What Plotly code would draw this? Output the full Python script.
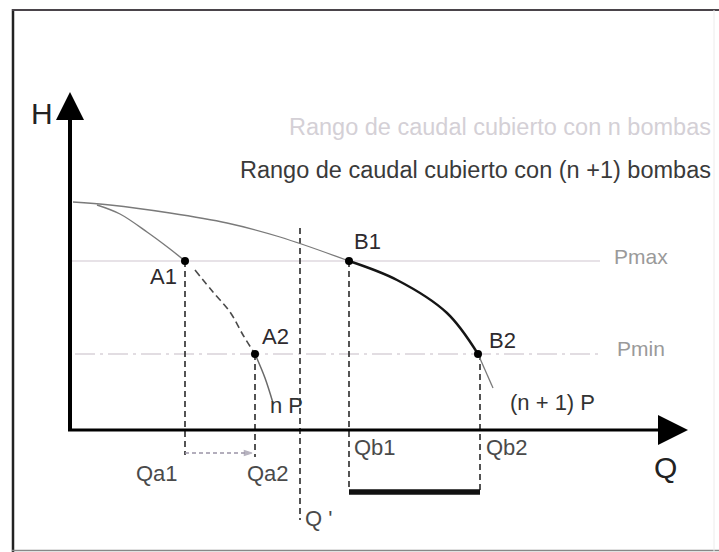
import plotly.graph_objects as go

# ---- schematic data (Q = caudal, H = altura) ----
P_MAX = 16.9
P_MIN = 7.6

# curva de (n + 1) bombas
q_np1 = [0.3, 4.0, 10.0, 15.7, 21.0, 27.9, 32.7, 37.7, 40.8, 42.3]
h_np1 = [22.8, 22.5, 21.7, 20.7, 19.3, 16.9, 15.0, 11.7, 7.6, 4.2]

# curva de n bombas: tramo superior, tramo A1-A2 y tramo final
q_np_top = [2.7, 5.0, 7.7, 10.0, 11.5]
h_np_top = [22.5, 21.6, 19.8, 18.1, 16.9]
q_np_mid = [12.5, 14.3, 16.0, 17.3, 18.5]
h_np_mid = [16.0, 13.8, 11.8, 9.5, 7.6]
q_np_end = [18.5, 19.5, 20.3]
h_np_end = [7.6, 5.2, 2.7]

# puntos de funcionamiento
pt_names = ["A1", "A2", "B1", "B2"]
pt_q = [11.5, 18.5, 27.9, 40.8]
pt_h = [P_MAX, P_MIN, P_MAX, P_MIN]

# caudales marcados sobre el eje
q_marks = ["Qa1", "Qa2", "Q '", "Qb1", "Qb2"]
q_vals = [11.5, 18.5, 23.0, 27.9, 41.0]
q_top = [P_MAX, P_MIN, 20.2, P_MAX, P_MIN]
q_bottom = [-2.5, -2.7, -9.0, -6.0, -6.0]

# extremos de los ejes
Q_AXIS_END = 61.8
H_AXIS_END = 33.8
LEVEL_END = 53.0
BAR_H = -6.2
SHIFT_H = -2.3

FONT = "Liberation Sans, Arial, sans-serif"

fig = go.Figure()

def line(x, y, color, width, dash="solid", shape="linear"):
    fig.add_trace(go.Scatter(x=x, y=y, mode="lines", hoverinfo="skip",
                             line=dict(color=color, width=width, dash=dash, shape=shape)))

# niveles de presion
line([0, LEVEL_END], [P_MAX, P_MAX], "#cfc6cf", 1.2)
line([0.5, LEVEL_END], [P_MIN, P_MIN], "#c6bcc6", 1.2, dash="20px,5px,3px,5px")

# lineas verticales discontinuas
for qv, top, bot in zip(q_vals, q_top, q_bottom):
    line([qv, qv], [top, bot], "#2a2a2a", 1.6, dash="6px,4px")

# curva (n + 1) P en tres tramos
line(q_np1[:6], h_np1[:6], "#7a7a7a", 1.3, shape="spline")
line(q_np1[5:9], h_np1[5:9], "#151515", 2.4, shape="spline")
line(q_np1[8:], h_np1[8:], "#7a7a7a", 1.3, shape="spline")

# curva n P
line(q_np_top, h_np_top, "#7a7a7a", 1.4, shape="spline")
line(q_np_mid, h_np_mid, "#4a4a4a", 1.6, dash="7px,4px", shape="spline")
line(q_np_end, h_np_end, "#6a6a6a", 1.5, shape="spline")

# rango cubierto con (n + 1) bombas
line([q_vals[3], q_vals[4]], [BAR_H, BAR_H], "#111111", 5.5)

# desplazamiento Qa1 -> Qa2
fig.add_trace(go.Scatter(
    x=[q_vals[0], q_vals[1] - 0.3], y=[SHIFT_H, SHIFT_H], mode="lines+markers",
    hoverinfo="skip", line=dict(color="#9a94a6", width=1.3, dash="4px,3px"),
    marker=dict(symbol=["line-ns", "arrow"], size=[6, 8], angleref="previous",
                color="#9a94a6", line=dict(color="#9a94a6", width=1.3))))

# ejes con flecha
fig.add_trace(go.Scatter(
    x=[0, 0], y=[0, H_AXIS_END - 1.5], mode="lines", hoverinfo="skip",
    line=dict(color="#000000", width=4)))
fig.add_trace(go.Scatter(
    x=[0], y=[H_AXIS_END], mode="markers", hoverinfo="skip",
    marker=dict(symbol="arrow-up", size=28, color="#000000")))
fig.add_trace(go.Scatter(
    x=[-0.2, Q_AXIS_END - 1.5], y=[0, 0], mode="lines", hoverinfo="skip",
    line=dict(color="#000000", width=3)))
fig.add_trace(go.Scatter(
    x=[Q_AXIS_END], y=[0], mode="markers", hoverinfo="skip",
    marker=dict(symbol="arrow-right", size=30, color="#000000")))

# puntos
fig.add_trace(go.Scatter(x=pt_q, y=pt_h, mode="markers", hoverinfo="skip",
                         marker=dict(color="#000000", size=8)))

# ---- textos ----
def text(x, y, s, size=22, color="#333333", xanchor="center"):
    fig.add_annotation(x=x, y=y, text=s, showarrow=False, xanchor=xanchor,
                       yanchor="middle", font=dict(family=FONT, size=size, color=color))

pt_offsets = [(-2.2, -1.5), (2.0, 1.8), (1.8, 2.0), (2.4, 1.4)]
for name, qv, hv, (dx, dy) in zip(pt_names, pt_q, pt_h, pt_offsets):
    text(qv + dx, hv + dy, name, color="#2e2a2e")

q_lab_pos = [(-2.8, -4.3), (1.3, -4.3), (1.8, -8.8), (2.6, -1.7), (2.7, -1.7)]
for name, qv, (dx, hy) in zip(q_marks, q_vals, q_lab_pos):
    text(qv + dx, hy, name, color="#4a4a4a")

text(q_np_end[-1] + 1.3, 2.5, "n P", color="#333333")
text(48.2, 2.8, "(n + 1) P", color="#333333")
text(57.1, P_MAX + 0.5, "Pmax", size=21, color="#9a9a9a")
text(57.1, P_MIN + 0.6, "Pmin", size=21, color="#9a9a9a")
text(Q_AXIS_END - 2.3, -3.7, "Q", size=30, color="#222222")
text(-2.8, H_AXIS_END - 2.1, "H", size=30, color="#222222")
text(16.8, 26.0, "Rango de caudal cubierto con (n +1) bombas", size=23.5,
     color="#3a3a3a", xanchor="left")
text(21.7, 30.3, "Rango de caudal cubierto con n bombas", size=23.5,
     color="#d4d0d6", xanchor="left")

# marco exterior
fig.add_shape(type="line", xref="paper", yref="paper", x0=13/719, x1=13/719,
              y0=0, y1=(552-9)/552, line=dict(color="#222222", width=2.5))
fig.add_shape(type="line", xref="paper", yref="paper", x0=12/719, x1=1,
              y0=(552-10)/552, y1=(552-10)/552, line=dict(color="#4a444a", width=1.8))
fig.add_shape(type="line", xref="paper", yref="paper", x0=12/719, x1=1,
              y0=1.5/552, y1=1.5/552, line=dict(color="#888888", width=1.5))
fig.add_shape(type="line", xref="paper", yref="paper", x0=714/719, x1=714/719,
              y0=0, y1=(552-10)/552, line=dict(color="#ececec", width=1))

fig.update_layout(
    width=719, height=552, margin=dict(l=0, r=0, t=0, b=0),
    paper_bgcolor="#ffffff", plot_bgcolor="#ffffff", showlegend=False,
    xaxis=dict(range=[-7.0, 64.9], visible=False, fixedrange=True),
    yaxis=dict(range=[-12.2, 43.0], visible=False, fixedrange=True),
)

fig.write_html("out.html")
